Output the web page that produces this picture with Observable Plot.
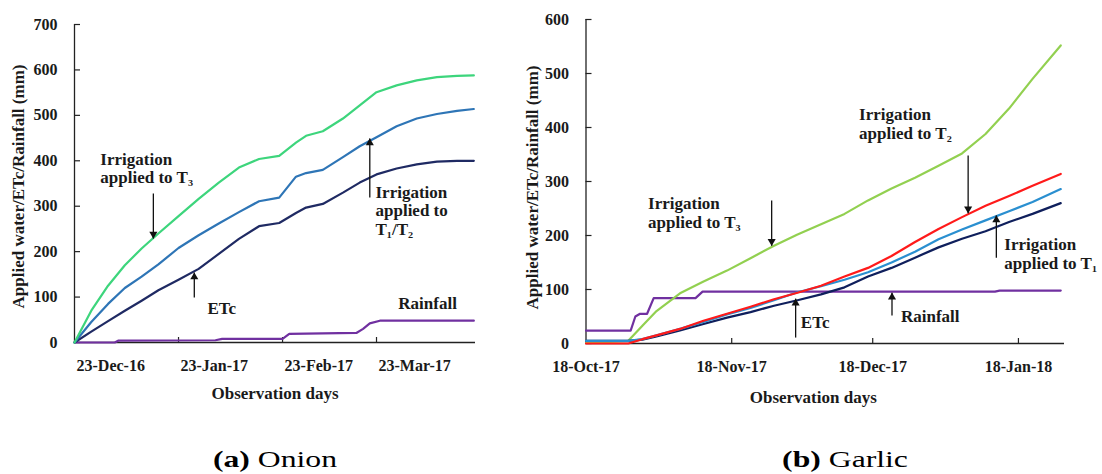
<!DOCTYPE html>
<html><head><meta charset="utf-8">
<script src="https://cdn.jsdelivr.net/npm/d3@7"></script>
<script src="https://cdn.jsdelivr.net/npm/@observablehq/plot@0.6"></script>
<style>
body{margin:0;background:#fff}
#wrap{position:relative;width:1102px;height:474px;background:#fff;overflow:hidden}
.panel{position:absolute;top:0}
.cap{position:absolute;top:459px;font-family:"Liberation Serif",serif;font-size:24px;color:#000;white-space:nowrap;transform:translate(-50%,-50%) scaleX(1.32)}
</style></head><body>
<div id="wrap">
  <div id="pa" class="panel" style="left:0"></div>
  <div id="pb" class="panel" style="left:520px"></div>
  <div class="cap" style="left:275px"><b>(a)</b> Onion</div>
  <div class="cap" style="left:845px"><b>(b)</b> Garlic</div>
</div>
<script>
// ---------- (a) Onion ----------
const onionStart = "2016-12-23";
const onionDays = [0,5,10,15,20,25,31,37,43,49,55,61,66,69,74,80,85,90,96,102,108,114,119];
const onionT3   = [0,70,125,170,207,240,278,316,352,385,404,411,440,455,465,493,522,551,566,577,584,587,588];
const onionT1T2 = [0,45,85,120,145,172,208,236,262,287,311,319,365,373,380,408,432,452,476,493,503,510,514];
const onionETc  = [0,24,47,70,92,115,138,162,195,228,256,263,285,297,305,330,352,370,383,392,398,400,400];
const onionRainDays = [0,12,13,42,44,62,64,84,86,88,91,119];
const onionRain     = [0,0,4,5,8,8,19,21,30,42,48,48];
const onionTicks = ["2016-12-23","2017-01-23","2017-02-23","2017-03-23"];
const onionYTicks = [0,100,200,300,400,500,600,700];

// ---------- (b) Garlic ----------
const garlicStart = "2017-10-18";
const garlicDays = [0,5,9,12,15,20,25,30,35,40,45,50,55,60,65,70,75,80,85,90,95,101];
const garlicT3  = [3,3,5,33,60,93,115,135,158,181,202,221,240,265,287,307,329,352,388,435,490,552];
const garlicT2  = [0,0,0,8,15,27,42,55,68,82,94,107,124,140,162,188,212,234,255,273,292,314];
const garlicT1  = [5,5,5,8,15,27,40,54,66,80,95,106,118,132,150,170,193,211,228,245,262,286];
const garlicETc = [5,5,5,7,13,24,36,48,58,70,80,91,104,124,140,159,178,194,208,225,240,260];
const garlicRainDays = [0,9.5,10.5,11.5,13,14.4,23.3,24.8,87,88,101];
const garlicRain     = [24,24,50,55,55,84,84,96,96,98,98];
const garlicTicks = ["2017-10-18","2017-11-18","2017-12-18","2018-01-18"];
const garlicYTicks = [0,100,200,300,400,500,600];

const yTitle = "Applied water/ETc/Rainfall (mm)";
const xTitle = "Observation days";

// annotations (day offset, value)
const onionLabels = [
  {day: 7.7, v: 384, text: "Irrigation\napplied to T\u2083"},
  {day: 39.6, v: 77, text: "ETc"},
  {day: 89.7, v: 291, text: "Irrigation\napplied to\nT\u2081/T\u2082"},
  {day: 96.5, v: 88, text: "Rainfall"}
];
const onionArrows = [
  {day: 23.5, from: 328, to: 229},
  {day: 35.7, from: 99, to: 154},
  {day: 88, from: 319, to: 449}
];
const garlicLabels = [
  {day: 13.2, v: 243, text: "Irrigation\napplied to T\u2083"},
  {day: 58.1, v: 407, text: "Irrigation\napplied to T\u2082"},
  {day: 89.0, v: 167, text: "Irrigation\napplied to T\u2081"},
  {day: 45.7, v: 39, text: "ETc"},
  {day: 67, v: 50, text: "Rainfall"}
];
const garlicArrows = [
  {day: 39.5, from: 265, to: 181},
  {day: 81.3, from: 348, to: 241},
  {day: 87.3, from: 159, to: 237},
  {day: 44.6, from: 11, to: 83},
  {day: 65.1, from: 52, to: 94}
];

const toDate = (start, d) => new Date(Date.parse(start + "T00:00:00Z") + d * 864e5);
const rows = (start, days, vals) => days.map((d, i) => ({date: toDate(start, d), value: vals[i]}));
const fmt = d3.utcFormat("%d-%b-%y");
const font = "'Liberation Serif', 'Times New Roman', serif";

function panel({start, endDay, ticks, yTicks, yMax, series, labels, arrows, width, height, mL, mR, mT, mB, tickAnchor, tickDx, yTitleDx, yTitleDy, xTitleDx, xTitleDy}) {
  const tickDates = ticks.map(t => new Date(t + "T00:00:00Z"));
  const s0 = toDate(start, 0);
  const ax = d => toDate(start, d.day);
  const up = arrows.filter(a => a.to > a.from);
  const down = arrows.filter(a => a.to < a.from);
  const marks = [
    Plot.ruleY([0], {stroke: "#222", strokeWidth: 1.3}),
    Plot.ruleX([s0], {y1: 0, y2: yMax, stroke: "#222", strokeWidth: 1.3}),
    Plot.axisY(yTicks, {tickSize: 6, dx: 6, tickFormat: () => "", stroke: "#222", strokeWidth: 1.2}),
    Plot.axisY(yTicks, {tickSize: 0, tickPadding: 17, fontSize: 16, fontWeight: "bold"}),
    Plot.axisX(tickDates.slice(1), {tickSize: 5, dy: -5, tickFormat: () => "", stroke: "#222", strokeWidth: 1.2}),
    Plot.axisX(tickDates, {tickSize: 0, tickPadding: 17, textAnchor: tickAnchor, dx: tickDx, tickFormat: fmt, fontSize: 16, fontWeight: "bold"}),
    ...series.map(s => Plot.line(s.data, {x: "date", y: "value", stroke: s.color, strokeWidth: 2.2})),
    Plot.link(arrows, {x1: ax, x2: ax, y1: "from", y2: "to", stroke: "#111", strokeWidth: 1.3}),
    Plot.dot(up, {x: ax, y: "to", symbol: "triangle", r: 3, fill: "#111", stroke: null, dy: 4.5}),
    Plot.dot(down, {x: ax, y: "to", symbol: "triangle", r: 3, fill: "#111", stroke: null, rotate: 180, dy: -4.5}),
    Plot.text(labels, {x: ax, y: "v", text: "text", textAnchor: "start", lineHeight: 1.1, fontSize: 17, fontWeight: "bold", fill: "#1a1a1a"}),
    Plot.text([yTitle], {frameAnchor: "left", textAnchor: "middle", lineAnchor: "middle", rotate: -90, dx: yTitleDx, dy: yTitleDy, fontSize: 17, fontWeight: "bold", fill: "#1a1a1a"}),
    Plot.text([xTitle], {frameAnchor: "bottom", textAnchor: "middle", lineAnchor: "middle", dx: xTitleDx, dy: xTitleDy, fontSize: 17, fontWeight: "bold", fill: "#1a1a1a"})
  ];
  return Plot.plot({
    width, height, marginLeft: mL, marginRight: mR, marginTop: mT, marginBottom: mB,
    x: {type: "utc", domain: [s0, toDate(start, endDay)], axis: null},
    y: {domain: [0, yMax], axis: null},
    style: {fontFamily: font, fontSize: "16px", color: "#1a1a1a", background: "transparent", overflow: "visible"},
    marks
  });
}

document.getElementById("pa").append(panel({
  start: onionStart, endDay: 119.5, ticks: onionTicks, yTicks: onionYTicks, yMax: 700,
  series: [
    {data: rows(onionStart, onionRainDays, onionRain), color: "#7030a0"},
    {data: rows(onionStart, onionDays, onionETc), color: "#1f2a63"},
    {data: rows(onionStart, onionDays, onionT1T2), color: "#2e75b6"},
    {data: rows(onionStart, onionDays, onionT3), color: "#3dd57c"}
  ],
  labels: onionLabels, arrows: onionArrows,
  width: 500, height: 410, mL: 74, mR: 25, mT: 24, mB: 68,
  tickAnchor: "start", tickDx: 2, yTitleDx: -55.5, yTitleDy: 3, xTitleDx: 0, xTitleDy: 51
}));

document.getElementById("pb").append(panel({
  start: garlicStart, endDay: 101.8, ticks: garlicTicks, yTicks: garlicYTicks, yMax: 600,
  series: [
    {data: rows(garlicStart, garlicRainDays, garlicRain), color: "#7030a0"},
    {data: rows(garlicStart, garlicDays, garlicT3), color: "#92d050"},
    {data: rows(garlicStart, garlicDays, garlicETc), color: "#0f1f5c"},
    {data: rows(garlicStart, garlicDays, garlicT1), color: "#2a8fd0"},
    {data: rows(garlicStart, garlicDays, garlicT2), color: "#ff1a1a"}
  ],
  labels: garlicLabels, arrows: garlicArrows,
  width: 582, height: 410, mL: 65.5, mR: 38, mT: 19, mB: 67,
  tickAnchor: "middle", tickDx: 0, yTitleDx: -53, yTitleDy: 6, xTitleDx: -12, xTitleDy: 54
}));
</script>
</body></html>
